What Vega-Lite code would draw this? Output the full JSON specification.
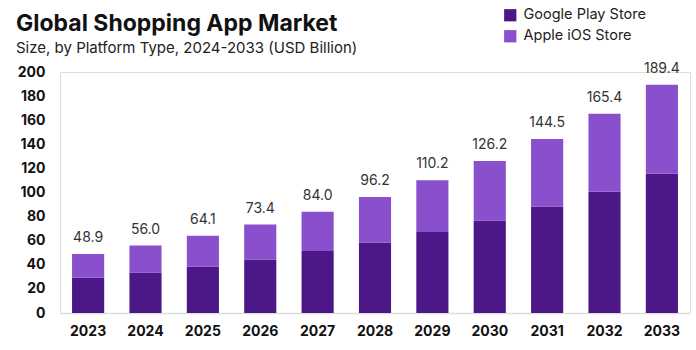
{
  "$schema": "https://vega.github.io/schema/vega-lite/v6.json",
  "width": 630,
  "height": 241,
  "autosize": "none",
  "padding": {"left": 60, "top": 72, "right": 6, "bottom": 37},
  "background": "white",
  "config": {
    "axisY": {"labelOverlap": false, "labelBound": false}
  },
  "title": {
    "text": "Global Shopping App Market",
    "subtitle": "Size, by Platform Type, 2024-2033 (USD Billion)",
    "anchor": "start",
    "frame": "group",
    "dx": -44,
    "dy": 66,
    "offset": 18,
    "font": "Inter",
    "fontSize": 23,
    "fontWeight": "bold",
    "color": "#111111",
    "subtitleFont": "Inter",
    "subtitleFontSize": 15,
    "subtitleColor": "#222222",
    "subtitlePadding": 5
  },
  "data": {
    "values": [
      {"year": "2023", "platform": "Google Play Store", "value": 29.3},
      {"year": "2023", "platform": "Apple iOS Store", "value": 19.6},
      {"year": "2024", "platform": "Google Play Store", "value": 33.7},
      {"year": "2024", "platform": "Apple iOS Store", "value": 22.3},
      {"year": "2025", "platform": "Google Play Store", "value": 38.4},
      {"year": "2025", "platform": "Apple iOS Store", "value": 25.7},
      {"year": "2026", "platform": "Google Play Store", "value": 44.5},
      {"year": "2026", "platform": "Apple iOS Store", "value": 28.9},
      {"year": "2027", "platform": "Google Play Store", "value": 51.4},
      {"year": "2027", "platform": "Apple iOS Store", "value": 32.6},
      {"year": "2028", "platform": "Google Play Store", "value": 58.6},
      {"year": "2028", "platform": "Apple iOS Store", "value": 37.6},
      {"year": "2029", "platform": "Google Play Store", "value": 67.2},
      {"year": "2029", "platform": "Apple iOS Store", "value": 43.0},
      {"year": "2030", "platform": "Google Play Store", "value": 76.8},
      {"year": "2030", "platform": "Apple iOS Store", "value": 49.4},
      {"year": "2031", "platform": "Google Play Store", "value": 88.2},
      {"year": "2031", "platform": "Apple iOS Store", "value": 56.3},
      {"year": "2032", "platform": "Google Play Store", "value": 100.7},
      {"year": "2032", "platform": "Apple iOS Store", "value": 64.7},
      {"year": "2033", "platform": "Google Play Store", "value": 115.6},
      {"year": "2033", "platform": "Apple iOS Store", "value": 73.8}
    ]
  },
  "encoding": {
    "x": {
      "field": "year",
      "type": "nominal",
      "scale": {"paddingInner": 0.44, "paddingOuter": 0.21},
      "axis": {
        "title": null,
        "labelAngle": 0,
        "labelFont": "Inter",
        "labelFontWeight": "bold",
        "labelFontSize": 14,
        "labelColor": "#111111",
        "labelPadding": 11,
        "ticks": false,
        "domainColor": "#dddddd",
        "domainWidth": 1.5
      }
    }
  },
  "layer": [
    {
      "mark": {"type": "bar"},
      "encoding": {
        "y": {
          "field": "value",
          "type": "quantitative",
          "aggregate": "sum",
          "stack": "zero",
          "scale": {"domain": [0, 200], "nice": false},
          "axis": {
            "title": null,
            "values": [0, 20, 40, 60, 80, 100, 120, 140, 160, 180, 200],
            "labelOverlap": false,
            "domain": false,
            "ticks": false,
            "grid": false,
            "labelFont": "Inter",
            "labelFontWeight": "bold",
            "labelFontSize": 14,
            "labelColor": "#111111",
            "labelPadding": 15
          }
        },
        "color": {
          "field": "platform",
          "type": "nominal",
          "sort": ["Google Play Store", "Apple iOS Store"],
          "scale": {
            "domain": ["Google Play Store", "Apple iOS Store"],
            "range": ["#4c1786", "#8a4fcc"]
          },
          "legend": {
            "title": null,
            "orient": "none",
            "legendX": 443,
            "legendY": -64,
            "symbolType": "square",
            "symbolSize": 150,
            "symbolStrokeWidth": 0,
            "labelFont": "Inter",
            "labelFontSize": 14.5,
            "labelColor": "#222222",
            "rowPadding": 6,
            "labelOffset": 6
          }
        }
      }
    },
    {
      "transform": [
        {"aggregate": [{"op": "sum", "field": "value", "as": "total"}], "groupby": ["year"]}
      ],
      "mark": {
        "type": "text",
        "baseline": "bottom",
        "dy": -9,
        "font": "Inter",
        "fontSize": 14,
        "color": "#333333"
      },
      "encoding": {
        "y": {"field": "total", "type": "quantitative", "axis": {"labelOverlap": false, "values": [0, 20, 40, 60, 80, 100, 120, 140, 160, 180, 200]}},
        "text": {"field": "total", "type": "quantitative", "format": ".1f"}
      }
    }
  ]
}
